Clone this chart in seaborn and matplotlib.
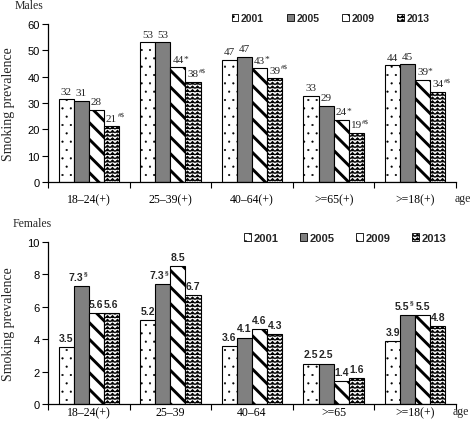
import warnings
import numpy as np
import pandas as pd
import matplotlib
matplotlib.use("Agg")
import matplotlib.pyplot as plt
import seaborn as sns
from matplotlib import hatch as mhatch
from matplotlib.path import Path
from matplotlib.patches import Patch

warnings.filterwarnings("ignore")

# ---------------- data ----------------
years = ["2001", "2005", "2009", "2013"]

male_groups = ["18–24(+)", "25–39(+)", "40–64(+)", ">=65(+)", ">=18(+)"]
male_2001 = [31.5, 53.1, 46.4, 32.8, 44.3]
male_2005 = [30.8, 53.0, 47.5, 28.9, 44.7]
male_2009 = [27.4, 43.6, 43.3, 23.6, 38.8]
male_2013 = [21.2, 38.0, 39.4, 18.7, 34.2]
male_lab_2001 = ["32", "53", "47", "33", "44"]
male_lab_2005 = ["31", "53", "47", "29", "45"]
male_lab_2009 = ["28", "44", "43", "24", "39"]
male_lab_2013 = ["21", "38", "39", "19", "34"]
male_sup_2001 = ["", "", "", "", ""]
male_sup_2005 = ["", "", "", "", ""]
male_sup_2009 = ["", "*", "*", "*", "*"]
male_sup_2013 = ["#$", "#$", "#$", "#$", "#$"]

female_groups = ["18–24(+)", "25–39", "40–64", ">=65", ">=18(+)"]
female_2001 = [3.5, 5.2, 3.6, 2.5, 3.9]
female_2005 = [7.3, 7.4, 4.1, 2.5, 5.5]
female_2009 = [5.6, 8.5, 4.6, 1.4, 5.5]
female_2013 = [5.6, 6.7, 4.3, 1.6, 4.8]
female_lab_2001 = ["3.5", "5.2", "3.6", "2.5", "3.9"]
female_lab_2005 = ["7.3", "7.3", "4.1", "2.5", "5.5"]
female_lab_2009 = ["5.6", "8.5", "4.6", "1.4", "5.5"]
female_lab_2013 = ["5.6", "6.7", "4.3", "1.6", "4.8"]
female_sup_2001 = ["", "", "", "", ""]
female_sup_2005 = ["§", "§", "", "", "§"]
female_sup_2009 = ["", "", "", "", ""]
female_sup_2013 = ["", "", "", "", ""]


# ---------------- custom zigzag hatch ----------------
class ZigzagHatch(mhatch.HatchPatternBase):
    def __init__(self, hatch, density):
        n = hatch.count("z")
        self.num_rows = int(n * density * 4.5) if n else 0
        self.num_half = 40
        self.num_vertices = self.num_rows * (self.num_half + 1)

    def set_vertices_and_codes(self, vertices, codes):
        m = self.num_half + 1
        xs = np.linspace(0.0, 1.0, m)
        amp = 0.65 / self.num_rows
        offs = np.where(np.arange(m) % 2 == 0, 0.0, amp)
        k = 0
        for r in range(self.num_rows):
            y0 = (r + 0.15) / self.num_rows
            vertices[k:k + m, 0] = xs
            vertices[k:k + m, 1] = y0 + offs
            codes[k] = Path.MOVETO
            codes[k + 1:k + m] = Path.LINETO
            k += m


mhatch._hatch_types.append(ZigzagHatch)

# ---------------- style ----------------
sns.set_style("ticks")
plt.rcParams["font.family"] = ["Liberation Serif", "DejaVu Serif"]
plt.rcParams["hatch.color"] = "black"
plt.rcParams["hatch.linewidth"] = 1.0
plt.rcParams["axes.edgecolor"] = "black"
plt.rcParams["xtick.color"] = "black"
plt.rcParams["ytick.color"] = "black"

SANS = ["Liberation Sans", "DejaVu Sans"]
SERIF = ["Liberation Serif", "DejaVu Serif"]

colors = ["white", "#808080", "white", "white"]
hatches = ["..", "", "\\\\", "z"]
hatch_lw = [0.3, 1.0, 2.1, 0.75]


def set_hlw(p, lw):
    if hasattr(p, "set_hatch_linewidth"):
        p.set_hatch_linewidth(lw)
    else:
        p._hatch_linewidth = lw


fig = plt.figure(figsize=(4.73, 4.27), dpi=100)
ax1 = fig.add_axes([48 / 473, 1 - 183 / 427, 408 / 473, 158 / 427])
ax2 = fig.add_axes([48 / 473, 1 - 405 / 427, 408 / 473, 162 / 427])


def panel(ax, groups, vals, labs, sups, ymax, ystep, lab_font, lab_size,
          lab_weight, lab_off, sup_shift, xpad, leg_x, leg_y, leg_size, colsp):
    rows = []
    for y, v in zip(years, vals):
        for g, val in zip(groups, v):
            rows.append({"group": g, "year": y, "value": val})
    df = pd.DataFrame(rows)
    sns.barplot(data=df, x="group", y="value", hue="year", order=groups,
                hue_order=years, palette=colors, width=0.74, gap=0,
                edgecolor="black", linewidth=0.8, saturation=1,
                errorbar=None, legend=False, ax=ax)
    for i, cont in enumerate(ax.containers):
        for p in cont.patches:
            p.set_hatch(hatches[i])
            set_hlw(p, hatch_lw[i])
            p.set_edgecolor("black")
        for p, lab, sup in zip(cont.patches, labs[i], sups[i]):
            x = p.get_x() + p.get_width() / 2
            h = p.get_height()
            dx = -sup_shift if sup else 0
            t = ax.annotate(lab, (x, h), xytext=(dx, lab_off),
                            textcoords="offset points", ha="center",
                            va="bottom", family=lab_font, fontsize=lab_size,
                            fontweight=lab_weight)
            if sup:
                big = sup == "*"
                ax.annotate(sup, xy=(1.0, 1.0 if not big else 0.95),
                            xycoords=t,
                            xytext=(0.3 if not big else -0.3,
                                    0.8 if not big else 0.5),
                            textcoords="offset points",
                            ha="left", va="top", family=lab_font,
                            fontsize=lab_size * (0.62 if not big else 0.85),
                            fontweight=lab_weight)
    ax.set_xlim(-0.5, len(groups) - 0.5)
    ax.set_ylim(0, ymax)
    ax.set_yticks(np.arange(0, ymax + 0.01, ystep))
    ax.set_yticklabels([f"{int(v)}" for v in np.arange(0, ymax + 0.01, ystep)],
                       family=SANS, fontsize=8)
    ax.set_xticks(range(len(groups)))
    ax.set_xticklabels(groups, family=SERIF, fontsize=8.5)
    ax.set_xticks(np.arange(-0.5, len(groups), 1.0), minor=True)
    ax.tick_params(axis="x", which="major", length=0, pad=xpad)
    ax.tick_params(axis="x", which="minor", length=4, width=0.8,
                   direction="out")
    ax.tick_params(axis="y", length=4, width=0.8, direction="out", pad=2)
    for s in ["top", "right"]:
        ax.spines[s].set_visible(False)
    for s in ["left", "bottom"]:
        ax.spines[s].set_linewidth(0.9)
    ax.set_xlabel("")
    ax.set_ylabel("Smoking prevalence", family=SERIF, fontsize=10)
    ax.yaxis.set_label_coords(-0.08, 0.5)

    handles = []
    for c, h, lw in zip(colors, hatches, hatch_lw):
        hp = Patch(facecolor=c, edgecolor="black", hatch=h, linewidth=0.6)
        set_hlw(hp, min(lw, 1.2))
        handles.append(hp)
    leg = ax.legend(handles, years, loc="center left",
                    bbox_to_anchor=(leg_x, leg_y), ncol=4, frameon=False,
                    prop={"family": SANS, "size": leg_size, "weight": "bold"},
                    handlelength=0.65, handleheight=0.65, handletextpad=0.25,
                    columnspacing=colsp, borderpad=0, borderaxespad=0)
    for hp in leg.legend_handles:
        set_hlw(hp, 0.8)


panel(ax1, male_groups,
      [male_2001, male_2005, male_2009, male_2013],
      [male_lab_2001, male_lab_2005, male_lab_2009, male_lab_2013],
      [male_sup_2001, male_sup_2005, male_sup_2009, male_sup_2013],
      60, 10, SERIF, 8, "normal", 2.5, 0, 8, 0.45, 1.035, 7.5, 2.2)

panel(ax2, female_groups,
      [female_2001, female_2005, female_2009, female_2013],
      [female_lab_2001, female_lab_2005, female_lab_2009, female_lab_2013],
      [female_sup_2001, female_sup_2005, female_sup_2009, female_sup_2013],
      10, 2, SANS, 7.5, "bold", 3.0, 4, 1.5, 0.48, 1.025, 8, 1.9)

fig.text(15 / 473, 1 - 6 / 427, "Males", family=SERIF, fontsize=8.5,
         ha="left", va="center")
fig.text(13 / 473, 1 - 224 / 427, "Females", family=SERIF, fontsize=8.5,
         ha="left", va="center")
fig.text(463 / 473, 1 - 199 / 427, "age", family=SERIF, fontsize=8.5,
         ha="center", va="center")
fig.text(461 / 473, 1 - 412 / 427, "age", family=SERIF, fontsize=8.5,
         ha="center", va="center")

fig.savefig("out.png", dpi=100)
